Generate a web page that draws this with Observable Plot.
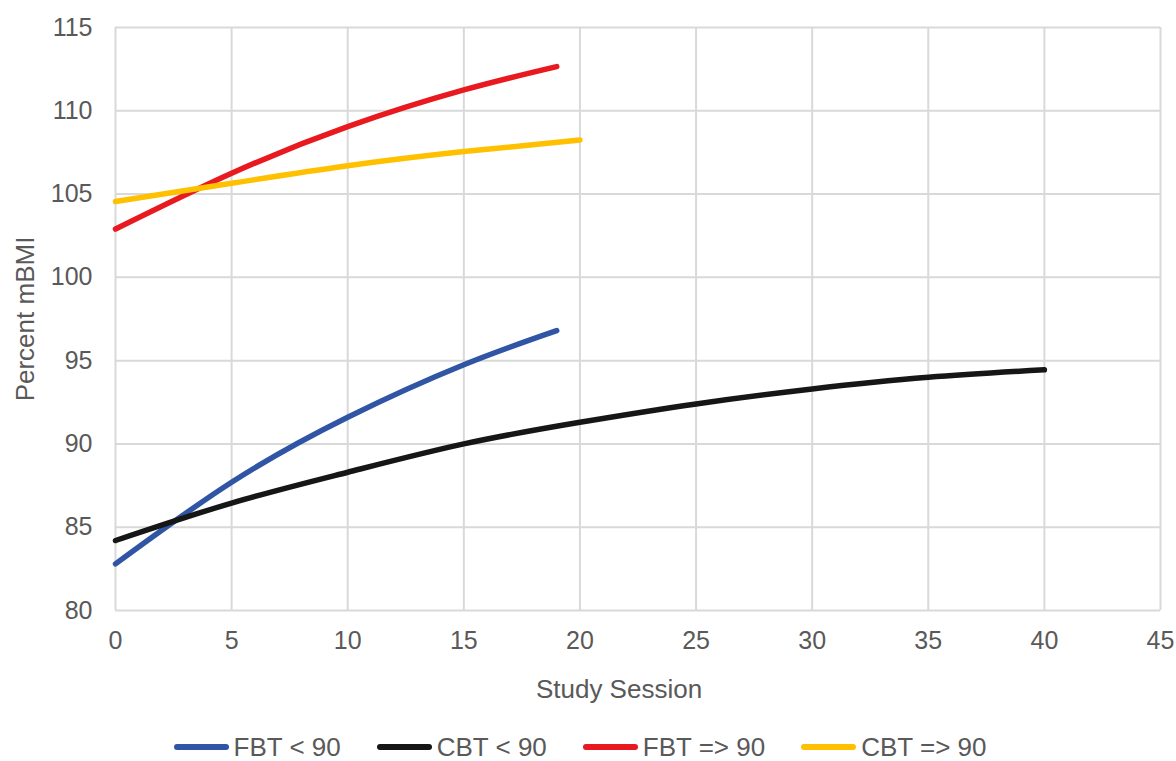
<!DOCTYPE html>
<html>
<head>
<meta charset="utf-8">
<script src="https://cdn.jsdelivr.net/npm/d3@7"></script>
<script src="https://cdn.jsdelivr.net/npm/@observablehq/plot@0.6"></script>
<style>
  html, body { margin: 0; padding: 0; background: #fff; overflow: hidden; }
  #chart svg { display: block; }
  #legend { display: flex; justify-content: center; align-items: center; height: 26px; line-height: 26px; margin-top: 9px;
    font-family: "Liberation Sans", Arial, sans-serif; font-size: 26px; color: #595959; gap: 36px; padding-right: 16px; }
  .item { display: flex; align-items: center; }
  .sw { width: 55px; height: 5.5px; border-radius: 3px; margin-right: 5px; }
</style>
</head>
<body>
<div id="chart"></div>
<div id="legend"></div>
<script>
const seriesNames = ["FBT < 90", "CBT < 90", "FBT => 90", "CBT => 90"];
const seriesColors = ["#2F55A4", "#161616", "#E8191F", "#FFC000"];

const fbtLowSession = [0, 5, 10, 15, 19];
const fbtLowValue   = [82.8, 87.7, 91.6, 94.75, 96.8];

const cbtLowSession = [0, 5, 10, 15, 20, 25, 30, 35, 40];
const cbtLowValue   = [84.2, 86.45, 88.3, 90.0, 91.3, 92.4, 93.3, 94.0, 94.45];

const fbtHighSession = [0, 5, 10, 15, 19];
const fbtHighValue   = [102.9, 106.25, 109.05, 111.25, 112.65];

const cbtHighSession = [0, 5, 10, 15, 20];
const cbtHighValue   = [104.55, 105.65, 106.7, 107.55, 108.25];

const xTicks = [0, 5, 10, 15, 20, 25, 30, 35, 40, 45];
const yTicks = [80, 85, 90, 95, 100, 105, 110, 115];

const sessions = [fbtLowSession, cbtLowSession, fbtHighSession, cbtHighSession];
const values = [fbtLowValue, cbtLowValue, fbtHighValue, cbtHighValue];
const data = seriesNames.flatMap((name, i) =>
  sessions[i].map((s, j) => ({series: name, session: s, value: values[i][j]})));

const font = "'Liberation Sans', Arial, sans-serif";
const chart = Plot.plot({
  width: 1176,
  height: 725,
  marginLeft: 115,
  marginRight: 16,
  marginTop: 27,
  marginBottom: 115,
  style: {fontFamily: font, fontSize: "25px", color: "#595959", background: "#fff"},
  x: {domain: [0, 45], ticks: xTicks, label: null, tickSize: 0, tickPadding: 21},
  y: {domain: [80, 115], ticks: yTicks, label: null, tickSize: 0, tickPadding: 23},
  color: {domain: seriesNames, range: seriesColors},
  marks: [
    Plot.gridX(xTicks, {stroke: "#d9d9d9", strokeOpacity: 1, strokeWidth: 2}),
    Plot.gridY(yTicks, {stroke: "#d9d9d9", strokeOpacity: 1, strokeWidth: 2}),
    Plot.axisX({ticks: xTicks, tickSize: 0, tickPadding: 21, label: null, fontSize: 25, fill: "#595959"}),
    Plot.axisY({ticks: yTicks, tickSize: 0, tickPadding: 23, label: null, fontSize: 25, fill: "#595959"}),
    Plot.line(data, {x: "session", y: "value", z: "series", stroke: "series",
      strokeWidth: 5.5, curve: "natural", strokeLinecap: "round"}),
    Plot.text(["Study Session"], {frameAnchor: "bottom", dx: -19, dy: 87, fontSize: 26, fill: "#595959"}),
    Plot.text(["Percent mBMI"], {frameAnchor: "left", textAnchor: "middle", dx: -90, rotate: -90, fontSize: 26, fill: "#595959"})
  ]
});
document.getElementById("chart").appendChild(chart);

const legend = document.getElementById("legend");
seriesNames.forEach((name, i) => {
  const item = document.createElement("div");
  item.className = "item";
  const sw = document.createElement("div");
  sw.className = "sw";
  sw.style.background = seriesColors[i];
  const label = document.createElement("span");
  label.textContent = name;
  item.appendChild(sw);
  item.appendChild(label);
  legend.appendChild(item);
});
</script>
</body>
</html>
